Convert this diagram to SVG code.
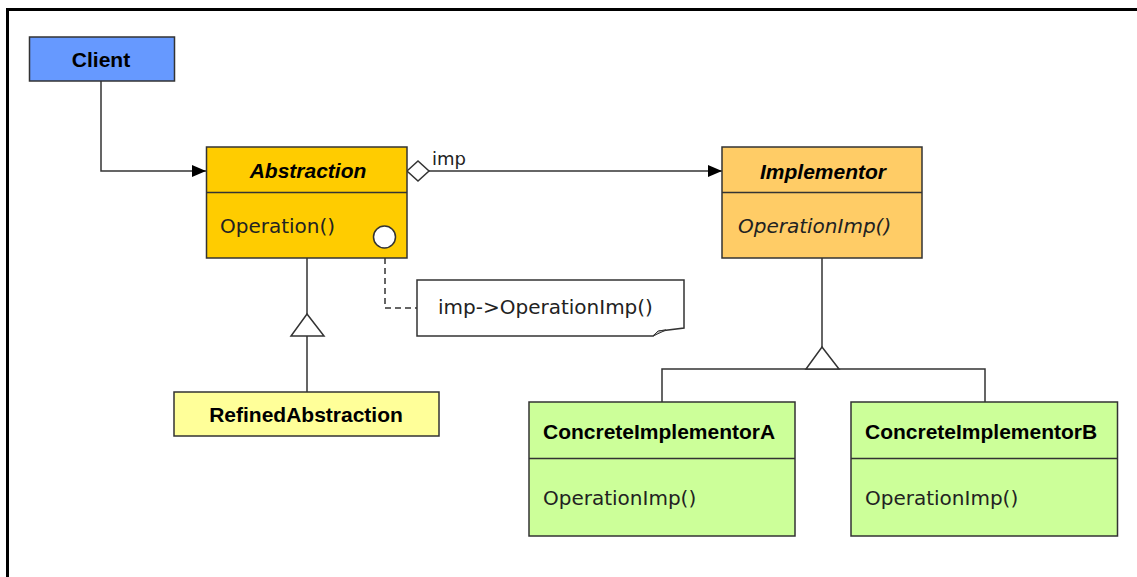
<svg xmlns="http://www.w3.org/2000/svg" width="1137" height="577" viewBox="0 0 1137 577">
<style>
.box{stroke:#333;stroke-width:1.5}
.ln{fill:none;stroke:#333;stroke-width:1.5}
.title{font-family:"Liberation Sans",Arial,sans-serif;font-weight:bold;font-size:21px;fill:#000}
.it{font-style:italic}
.op{font-family:"DejaVu Sans",sans-serif;font-size:20px;fill:#222}
</style>
<defs>
<marker id="arr" markerWidth="14" markerHeight="12" refX="14" refY="6" orient="auto" markerUnits="userSpaceOnUse">
<path d="M0,0 L14,6 L0,12 Z" fill="#000"/>
</marker>
</defs>
<rect width="1137" height="577" fill="#fff"/>
<path d="M7.5,577 V9.5 H1137" fill="none" stroke="#000" stroke-width="3"/>

<g id="connectors">
<path class="ln" d="M101,81 V171 H206" marker-end="url(#arr)"/>
<path class="ln" d="M429,171 H722" marker-end="url(#arr)"/>
<polygon points="407,171 418,161 429,171 418,181" fill="#fff" stroke="#333" stroke-width="1.5"/>
<text x="432" y="165" font-family="'DejaVu Sans',sans-serif" font-size="18" fill="#222">imp</text>
<path class="ln" d="M385,248 V308 H417" stroke-dasharray="6,4"/>
<path class="ln" d="M307,258 V314 M307,336 V392"/>
<polygon points="307,314 324,336 291,336" fill="#fff" stroke="#333" stroke-width="1.5"/>
<path class="ln" d="M822,258 V347"/>
<path class="ln" d="M662,402 V369 H985 V402"/>
<polygon points="822,347 839,369 806,369" fill="#fff" stroke="#333" stroke-width="1.5"/>
</g>

<g id="client">
<rect class="box" x="29.5" y="37" width="145" height="44" fill="#6699ff"/>
<text class="title" x="101" y="67" text-anchor="middle">Client</text>
</g>

<g id="abstraction">
<rect class="box" x="206.5" y="147" width="200.5" height="111" fill="#ffcc00"/>
<line class="ln" x1="206.5" y1="192.5" x2="407" y2="192.5"/>
<text class="title it" x="308" y="178" text-anchor="middle">Abstraction</text>
<text class="op" x="220" y="233">Operation()</text>
<circle cx="384.5" cy="237" r="11" fill="#fff" stroke="#333" stroke-width="1.5"/>
</g>

<g id="implementor">
<rect class="box" x="722" y="147" width="200" height="111" fill="#ffcc66"/>
<line class="ln" x1="722" y1="192.5" x2="922" y2="192.5"/>
<text class="title it" x="823" y="179" text-anchor="middle">Implementor</text>
<text class="op" x="738" y="233" font-style="italic">OperationImp()</text>
</g>

<g id="note">
<path d="M417,280 H684 V328 L660,331 L653,336 H417 Z" fill="#fff" stroke="#333" stroke-width="1.5"/>
<path d="M653,336 L658,331 L666,330 Z" fill="#bbb" stroke="#333" stroke-width="1"/>
<text class="op" x="438" y="314" font-size="19.5">imp-&gt;OperationImp()</text>
</g>

<g id="refinedAbstraction">
<rect class="box" x="174" y="392" width="265" height="44" fill="#ffff99"/>
<text class="title" x="306" y="422" text-anchor="middle">RefinedAbstraction</text>
</g>

<g id="concreteImplementorA">
<rect class="box" x="529" y="402" width="266" height="134" fill="#ccff99"/>
<line class="ln" x1="529" y1="458.5" x2="795" y2="458.5"/>
<text class="title" x="543" y="439" font-size="21.5">ConcreteImplementorA</text>
<text class="op" x="543" y="505">OperationImp()</text>
</g>

<g id="concreteImplementorB">
<rect class="box" x="851" y="402" width="266.5" height="134" fill="#ccff99"/>
<line class="ln" x1="851" y1="458.5" x2="1117.5" y2="458.5"/>
<text class="title" x="865" y="439" font-size="21.5">ConcreteImplementorB</text>
<text class="op" x="865" y="505">OperationImp()</text>
</g>
</svg>
